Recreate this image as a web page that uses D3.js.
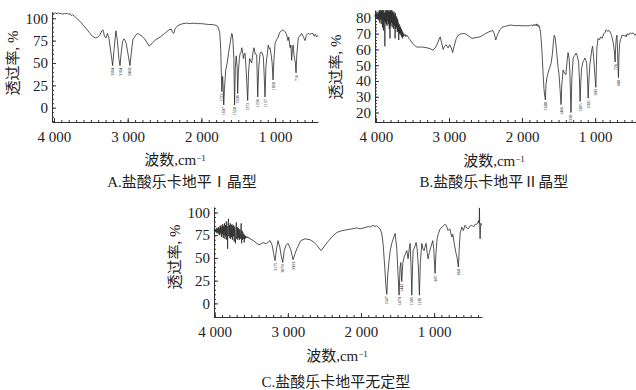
<!DOCTYPE html>
<html>
<head>
<meta charset="utf-8">
<script src="https://cdn.jsdelivr.net/npm/d3@7"></script>
<style>
  body { margin: 0; background: #fff; }
  svg { display: block; }
  text { font-family: "Liberation Serif", "Noto Sans CJK SC", serif; fill: #222; }
</style>
</head>
<body>
<svg id="chart" width="636" height="390"></svg>
<script>
// spectra: [wavenumber cm-1, transmittance %]
const spectrumA = [[4027,106],[4000,105.5],[3980,106],[3960,105],[3940,106],[3920,105],[3900,105.5],[3880,104.5],[3860,105.5],[3840,105],[3820,105.5],[3800,104.5],[3780,105],[3765,103],[3750,104],[3720,102],[3680,99],[3640,96],[3600,92],[3560,88],[3520,84],[3480,80],[3440,78],[3410,78.5],[3380,81],[3350,86],[3335,87],[3315,80],[3295,78],[3275,83],[3255,78],[3225,60],[3204,47],[3185,65],[3160,86],[3140,75],[3120,55],[3104,47],[3090,60],[3070,74],[3050,77],[3035,75],[3020,72],[3000,62],[2969,47],[2950,62],[2930,76],[2900,80],[2870,83],[2840,82],[2806,80],[2770,77],[2740,73],[2710,69],[2690,70],[2660,73],[2620,76],[2560,79],[2500,83],[2440,87],[2410,88],[2390,84],[2375,83],[2360,88],[2330,91],[2290,93],[2250,94],[2200,94.5],[2150,94],[2100,94.5],[2050,94],[2000,94],[1950,93.5],[1900,93],[1850,93],[1800,92],[1780,91],[1765,88],[1750,83],[1738,66],[1730,40],[1723,18],[1712,35],[1703,20],[1697,3],[1688,20],[1670,42],[1650,50],[1630,62],[1610,72],[1590,83],[1580,82],[1570,72],[1560,55],[1550,3],[1540,45],[1528,58],[1515,45],[1508,16],[1498,40],[1485,55],[1476,60],[1462,62],[1453,67],[1440,62],[1430,55],[1420,60],[1408,61],[1395,45],[1385,30],[1372,8],[1360,40],[1345,55],[1330,52],[1317,50],[1300,62],[1286,67],[1270,60],[1250,59],[1236,12],[1222,45],[1205,60],[1195,62],[1182,62],[1170,60],[1160,57],[1150,40],[1137,12],[1125,45],[1114,55],[1107,59],[1093,70],[1080,66],[1069,67],[1055,60],[1040,50],[1028,31],[1015,55],[1000,72],[980,76],[957,79],[940,84],[911,86],[890,87],[866,85],[845,82],[825,75],[815,79],[797,67],[785,70],[775,53],[765,66],[755,70],[745,60],[735,55],[725,50],[716,39],[705,60],[685,78],[665,80],[640,83],[615,79],[594,75],[575,81],[553,83],[530,82],[510,83],[486,83],[470,80],[455,82],[436,79],[418,81]];

const spectrumB = [[4013,82],[4008,80.5],[4003,82.5],[3998,81],[3993,83],[3988,79.5],[3983,82],[3978,80],[3973,84],[3968,78.5],[3963,83],[3958,80],[3953,85],[3948,77],[3943,84],[3938,79],[3933,85],[3928,76],[3923,84.5],[3918,79],[3913,85],[3908,74],[3903,84],[3898,72],[3893,85],[3888,78],[3883,83],[3878,62],[3873,84],[3868,77],[3863,85],[3858,76],[3853,84.5],[3848,75],[3843,85],[3838,78],[3833,84],[3828,76],[3823,85],[3818,73],[3813,84],[3808,67],[3803,85],[3798,75],[3793,84],[3788,77],[3783,85],[3778,74],[3773,84],[3768,76],[3763,83],[3758,73],[3753,84],[3748,75],[3743,82],[3738,67],[3733,83],[3728,73],[3723,81],[3718,74],[3713,80],[3708,71],[3703,79],[3698,72],[3693,77],[3688,66],[3683,76],[3678,70],[3673,75],[3668,70],[3663,74],[3658,69],[3653,73],[3648,68],[3643,72],[3638,67],[3633,71],[3628,68],[3620,70],[3610,68.5],[3600,69.5],[3590,68],[3575,69],[3540,66.5],[3500,64],[3470,62.5],[3440,61.5],[3400,61.5],[3356,61.5],[3300,61],[3260,60.5],[3220,59.6],[3190,61],[3165,63],[3140,66],[3120,68],[3100,64],[3080,60],[3060,62],[3040,63],[3013,61],[2990,63],[2970,61],[2950,58],[2930,62],[2900,67],[2875,69],[2830,70],[2780,70],[2730,68.5],[2685,67],[2630,67.5],[2575,68],[2500,70],[2440,71.5],[2400,72],[2380,70],[2360,66],[2345,68],[2330,70],[2300,72.5],[2275,74],[2240,74.5],[2205,75],[2150,75.5],[2100,75],[2050,75.2],[2000,75],[1950,75],[1900,75],[1870,75.5],[1850,74.8],[1835,76],[1820,75],[1805,76.2],[1795,74.8],[1785,75.8],[1775,74.5],[1765,75],[1755,73],[1745,70],[1735,64],[1725,57],[1712,45],[1700,35],[1688,30],[1680,28],[1672,38],[1660,42],[1644,45],[1625,48],[1603,51],[1585,57],[1572,64],[1560,69],[1550,68],[1545,67],[1530,60],[1518,54],[1505,48],[1493,44],[1480,35],[1466,25],[1455,38],[1438,47],[1420,45],[1400,44],[1385,52],[1370,58],[1355,54],[1345,45],[1330,20],[1318,42],[1300,54.6],[1280,56],[1260,57.7],[1245,56],[1226,52],[1215,42],[1205,27],[1195,40],[1185,48],[1170,51.5],[1155,53],[1140,54.6],[1125,53],[1115,51],[1105,42],[1095,29],[1085,40],[1072,50],[1060,54.6],[1045,60],[1034,62],[1020,55],[1005,45],[990,36],[982,50],[975,61],[960,67],[940,66],[925,68],[905,67],[880,70],[860,71],[850,72.5],[830,71.5],[810,72],[795,71],[775,69],[760,66],[750,64],[740,60],[733,57],[726,52],[718,62],[710,67],[700,69],[692,58],[686,48],[680,42],[674,55],[665,63],[655,66],[644,67],[632,69],[620,69],[600,68.5],[585,69],[575,68],[560,70],[545,69],[520,70.5],[500,70],[480,70.5],[465,69.5],[452,69],[440,70]];

const spectrumC = [[4010,81],[4004,79.5],[3998,82],[3992,79],[3986,81.5],[3980,78],[3974,83],[3968,77],[3962,82],[3956,78],[3950,84],[3944,76],[3938,83],[3932,75],[3926,85],[3920,77],[3914,86],[3908,73],[3902,84],[3896,76],[3890,87],[3884,72],[3878,85],[3872,75],[3866,88],[3860,71],[3854,86],[3848,74],[3842,90],[3836,70],[3830,85],[3824,60],[3818,88],[3812,93],[3806,74],[3800,86],[3794,72],[3788,88],[3782,71],[3776,86],[3770,73],[3764,87],[3758,70],[3752,85],[3746,74],[3740,86],[3734,68],[3728,84],[3722,72],[3716,66],[3710,83],[3704,89],[3698,71],[3692,84],[3686,70],[3680,83],[3674,72],[3668,82],[3662,70],[3656,81],[3650,71],[3644,79],[3638,88],[3632,66],[3626,80],[3620,70],[3614,78],[3608,71],[3602,76],[3596,67],[3590,75],[3584,71],[3578,74],[3570,72],[3560,73.5],[3550,72],[3540,73],[3530,71.5],[3517,71],[3470,69],[3425,66],[3394,64.5],[3365,65.5],[3339,67],[3310,66],[3289,66],[3243,69],[3215,64],[3195,55],[3175,47],[3155,60],[3134,69],[3110,62],[3090,52],[3070,45],[3050,58],[3025,64],[2997,66],[2960,59],[2929,48],[2900,55],[2878,60],[2824,69],[2765,71],[2696,70],[2640,67],[2605,64],[2545,58],[2491,64],[2440,69],[2400,73],[2331,78],[2260,80],[2194,81],[2120,82],[2057,83],[2012,82],[1960,83],[1900,84.5],[1870,84],[1835,86],[1810,84.5],[1790,85.5],[1766,84],[1740,82],[1716,77],[1698,66],[1675,40],[1660,20],[1647,10],[1635,30],[1616,47],[1600,58],[1579,66],[1555,72],[1533,77],[1510,60],[1495,35],[1479,9],[1465,40],[1455,45],[1442,24],[1428,44],[1410,51],[1390,55],[1373,58],[1356,49],[1340,60],[1328,66],[1315,40],[1305,9],[1295,40],[1287,58],[1265,62],[1246,67],[1232,60],[1215,40],[1201,9],[1188,45],[1168,66],[1152,60],[1137,58],[1124,62],[1110,66],[1095,56],[1082,49],[1065,56],[1045,62],[1018,69],[1005,60],[987,33],[975,55],[959,71],[940,77],[918,82],[890,84],[850,87],[830,85],[809,80],[785,82],[758,73],[745,76],[727,67],[700,55],[685,50],[668,40],[655,62],[644,77],[621,84],[600,80],[576,86],[555,83],[531,82],[510,85],[484,86],[460,84],[440,87],[416,87],[400,89],[394,91],[384,88],[380,105],[375,80],[371,71],[366,82],[360,88],[352,86]];

// marked band positions (cm-1)
const peaksA = [3204, 3104, 2969, 1723, 1697, 1550, 1508, 1372, 1236, 1137, 1028, 716];
const peaksB = [1680, 1466, 1330, 1205, 1095, 990, 726, 680];
const peaksC = [3175, 3070, 2929, 1647, 1479, 1442, 1305, 1201, 987, 668];

const xTicks = [4000, 3000, 2000, 1000];
const yTicksA = [0, 25, 50, 75, 100];
const yTicksB = [20, 30, 40, 50, 60, 70, 80];
const yTicksC = [0, 25, 50, 75, 100];

const yTitle = '透过率, %';
const xTitle = '波数,cm';
const captionA = 'A.盐酸乐卡地平Ⅰ晶型';
const captionB = 'B.盐酸乐卡地平Ⅱ晶型';
const captionC = 'C.盐酸乐卡地平无定型';

const svg = d3.select('#chart');

function drawPanel(p) {
  const x = d3.scaleLinear().domain(p.xDomain).range(p.xRange);
  const y = d3.scaleLinear().domain(p.yDomain).range(p.yRange);
  const bottom = p.yRange[0];
  const left = p.xRange[0];
  const g = svg.append('g');

  // minor ticks
  const xMinor = d3.range(4000, p.xDomain[1], -100);
  g.append('g')
    .attr('transform', `translate(0,${bottom})`)
    .call(d3.axisBottom(x).tickValues(xMinor).tickSize(-2).tickSizeOuter(0).tickFormat(''))
    .call(a => a.select('.domain').remove())
    .call(a => a.selectAll('line').attr('stroke', '#333'));
  const yMinor = d3.range(Math.ceil(p.yDomain[0] / p.yMinorStep) * p.yMinorStep, p.yDomain[1], p.yMinorStep);
  g.append('g')
    .attr('transform', `translate(${left},0)`)
    .call(d3.axisLeft(y).tickValues(yMinor).tickSize(-2).tickSizeOuter(0).tickFormat(''))
    .call(a => a.select('.domain').remove())
    .call(a => a.selectAll('line').attr('stroke', '#333'));

  // major axes
  g.append('g')
    .attr('transform', `translate(0,${bottom})`)
    .call(d3.axisBottom(x).tickValues(xTicks).tickSize(-4).tickSizeOuter(0).tickPadding(9.5)
      .tickFormat(d => d3.format(',')(d).replace(',', ' ')))
    .call(a => a.select('.domain').attr('stroke', '#333'))
    .call(a => a.selectAll('line').attr('stroke', '#333'))
    .call(a => a.selectAll('text').attr('font-size', 15).attr('fill', '#222')
      .attr('font-family', '"Liberation Serif", serif'));
  g.append('g')
    .attr('transform', `translate(${left},0)`)
    .call(d3.axisLeft(y).tickValues(p.yTicks).tickSize(-4).tickSizeOuter(0).tickPadding(4))
    .call(a => a.select('.domain').attr('stroke', '#333'))
    .call(a => a.selectAll('line').attr('stroke', '#333'))
    .call(a => a.selectAll('text').attr('font-size', 15).attr('fill', '#222')
      .attr('font-family', '"Liberation Serif", serif'));

  // spectrum
  const line = d3.line().x(d => x(d[0])).y(d => y(d[1]));
  g.append('path')
    .datum(p.data)
    .attr('fill', 'none')
    .attr('stroke', '#2a2a2a')
    .attr('stroke-width', 0.8)
    .attr('stroke-linejoin', 'round')
    .attr('d', line);

  // band labels under the minima
  g.selectAll('.peak')
    .data(p.peaks)
    .enter().append('text')
    .attr('class', 'peak')
    .attr('transform', w => {
      const pt = p.data.reduce((a, b) => Math.abs(b[0] - w) < Math.abs(a[0] - w) ? b : a);
      return `translate(${x(w) + 1.5},${y(pt[1]) + 2}) rotate(-90)`;
    })
    .attr('text-anchor', 'end')
    .attr('font-size', 4.2)
    .attr('fill', '#555')
    .text(w => w);

  // titles
  g.append('text')
    .attr('transform', `translate(${p.yTitlePos[0]},${p.yTitlePos[1]}) rotate(-90)`)
    .attr('text-anchor', 'middle')
    .attr('dy', '0.35em')
    .attr('font-size', 15)
    .text(yTitle);
  const xt = g.append('text')
    .attr('x', p.xTitlePos[0])
    .attr('y', p.xTitlePos[1])
    .attr('text-anchor', 'middle')
    .attr('font-size', 15);
  xt.append('tspan').text(xTitle);
  xt.append('tspan').attr('dy', '-0.5em').attr('font-size', 9).text('−1');
  g.append('text')
    .attr('x', p.captionPos[0])
    .attr('y', p.captionPos[1])
    .attr('text-anchor', 'middle')
    .attr('font-size', 15)
    .text(p.caption);
}

drawPanel({
  data: spectrumA, peaks: peaksA, yTicks: yTicksA, yMinorStep: 5,
  xDomain: [4027, 418], xRange: [52, 318],
  yDomain: [-16, 107], yRange: [122, 12],
  yTitlePos: [13, 63], xTitlePos: [175, 165], captionPos: [182, 187], caption: captionA
});
drawPanel({
  data: spectrumB, peaks: peaksB, yTicks: yTicksB, yMinorStep: 2,
  xDomain: [4013, 440], xRange: [375, 636],
  yDomain: [14, 85], yRange: [122, 10],
  yTitlePos: [336, 67], xTitlePos: [494, 166], captionPos: [494, 187], caption: captionB
});
drawPanel({
  data: spectrumC, peaks: peaksC, yTicks: yTicksC, yMinorStep: 5,
  xDomain: [4010, 345], xRange: [214, 482],
  yDomain: [-15, 106], yRange: [317, 207],
  yTitlePos: [175, 257], xTitlePos: [337, 361], captionPos: [336, 387], caption: captionC
});
</script>
</body>
</html>
